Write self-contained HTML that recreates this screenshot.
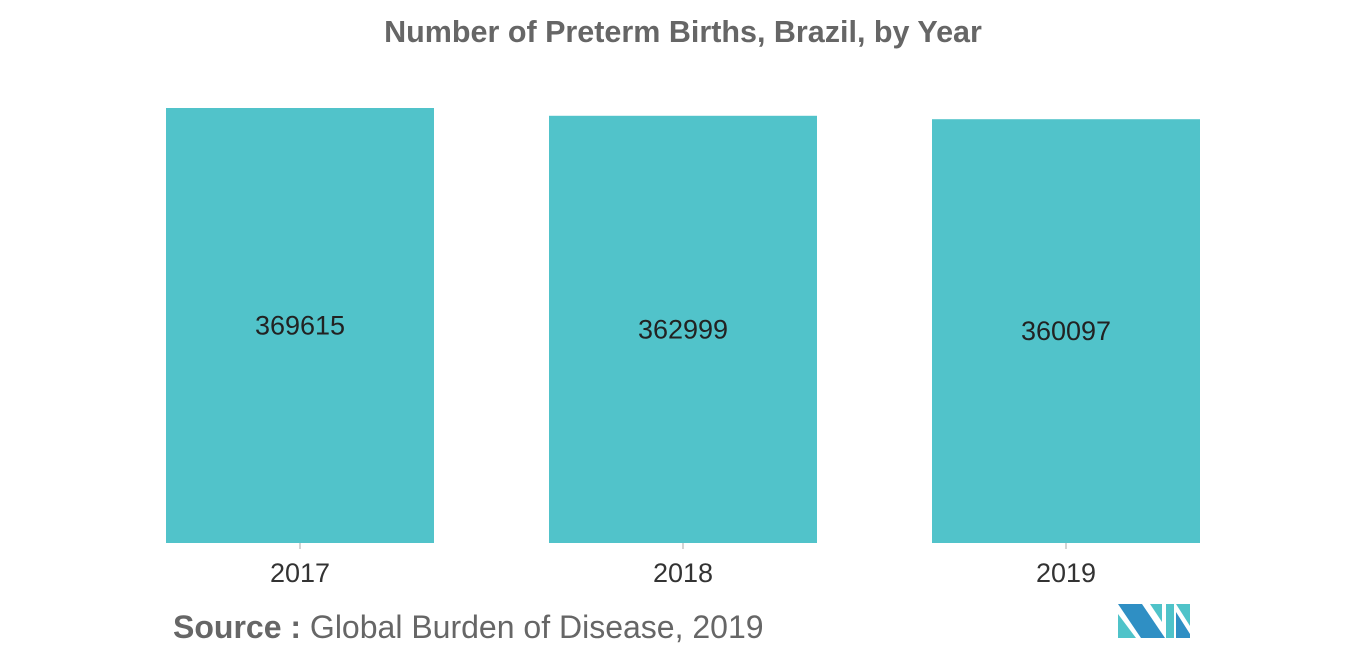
<!DOCTYPE html>
<html><head><meta charset="utf-8"><style>
body{margin:0;width:1366px;height:655px;background:#fff;overflow:hidden;font-family:"Liberation Sans",sans-serif}
</style></head><body>
<svg width="1366" height="655">
<text x="683" y="42" text-anchor="middle" font-size="30.5" font-weight="bold" fill="#666">Number of Preterm Births, Brazil, by Year</text>
<g id="bars"></g>
<text x="173" y="638" font-size="32" fill="#666"><tspan font-weight="bold">Source :</tspan> Global Burden of Disease, 2019</text>
<g>
<polygon points="1118,604 1142,604 1165,638 1141,638" fill="#2f8fc4"/>
<polygon points="1118,614 1136,638 1118,638" fill="#4fc3c9"/>
<polygon points="1150,604 1162,604 1162,622" fill="#4fc3c9"/>
<polygon points="1166,604 1174,604 1174,638 1166,638" fill="#4fc3c9"/>
<polygon points="1176,604 1190,604 1190,626" fill="#4fc3c9"/>
<polygon points="1176,612 1190,634 1190,638 1176,638" fill="#2f8fc4"/>
</g>
</svg>
<script>
const categories=["2017","2018","2019"];
const values=[369615,362999,360097];
const ns="http://www.w3.org/2000/svg";
const g=document.getElementById('bars');
const base=543, pxPer=435/369615;
const y=v=>base-v*pxPer;
const x0=166, step=383, bw=268;
categories.forEach((c,i)=>{
 const x=x0+i*step;
 const r=document.createElementNS(ns,'rect');
 r.setAttribute('x',x);r.setAttribute('y',y(values[i]));r.setAttribute('width',bw);r.setAttribute('height',base-y(values[i]));r.setAttribute('fill','#51c3ca');
 
 
 g.appendChild(r);
 const t=document.createElementNS(ns,'text');
 t.setAttribute('x',x+bw/2);t.setAttribute('y',(y(values[i])+base)/2+9);t.setAttribute('text-anchor','middle');t.setAttribute('font-size','27');t.setAttribute('fill','#222');
 t.textContent=values[i];
 
 
 g.appendChild(t);
 const tk=document.createElementNS(ns,'line');
 tk.setAttribute('x1',x+bw/2);tk.setAttribute('x2',x+bw/2);tk.setAttribute('y1',base);tk.setAttribute('y2',base+6);tk.setAttribute('stroke','#aaa');
 
 
 g.appendChild(tk);
 const l=document.createElementNS(ns,'text');
 l.setAttribute('x',x+bw/2);l.setAttribute('y',582);l.setAttribute('text-anchor','middle');l.setAttribute('font-size','27');l.setAttribute('fill','#333');
 l.textContent=c;
 
 
 g.appendChild(l);
});
</script>
</body></html>
